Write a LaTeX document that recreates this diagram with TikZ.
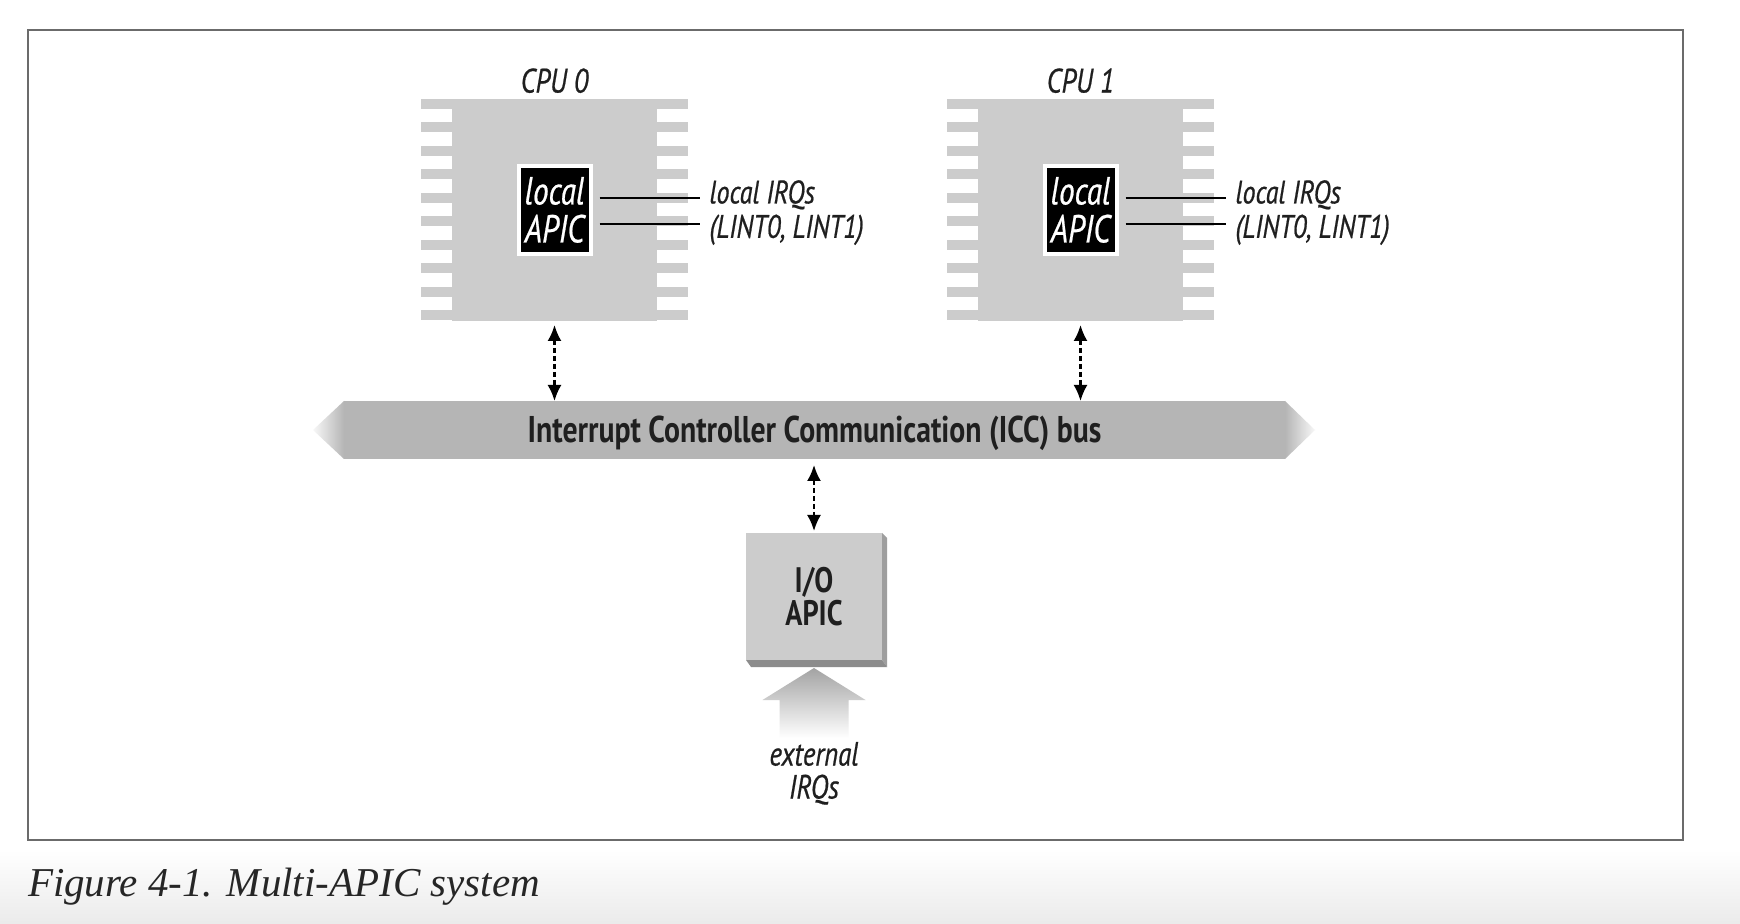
\documentclass[tikz,border=0pt]{standalone}
\usepackage{fontspec}
\setmainfont{Liberation Serif}
\newfontfamily\condfont[FakeStretch=0.8]{PT Sans}
\newfontfamily\condital[FakeStretch=0.8,FakeBold=0.6]{PT Sans}
\usetikzlibrary{arrows.meta,positioning,calc}

\definecolor{chipgray}{gray}{0.80}
\definecolor{busgray}{gray}{0.71}
\definecolor{sidegray}{gray}{0.62}
\definecolor{lowgray}{gray}{0.55}
\definecolor{inkgray}{gray}{0.12}

\begin{document}
\begin{tikzpicture}[
  x=0.5pt,
  y=-0.5pt,
  every node/.style={text=inkgray, inner sep=0pt, outer sep=0pt},
  chip/.style={
    fill=chipgray,
    minimum width=102.5pt,
    minimum height=111pt
  },
  apic/.style={
    fill=black,
    draw=white,
    line width=2pt,
    minimum width=36pt,
    minimum height=44pt,
    align=center,
    text=white,
    font=\condital\itshape\fontsize{19.5}{19}\selectfont
  },
  cpu label/.style={font=\condital\itshape\fontsize{17}{18}\selectfont},
  irq label/.style={
    align=left,
    font=\condital\itshape\fontsize{16.3}{17.2}\selectfont
  },
  busbar/.style={
    fill=busgray,
    minimum width=470.5pt,
    minimum height=29pt,
    text depth=0.6pt,
    font=\condfont\bfseries\fontsize{18.6}{20}\selectfont
  },
  iobox/.style={
    fill=chipgray,
    minimum width=68pt,
    minimum height=63.5pt,
    align=center,
    font=\condfont\bfseries\fontsize{17.7}{15}\selectfont
  },
  ext label/.style={
    align=center,
    font=\condital\itshape\fontsize{16.8}{16.5}\selectfont
  },
  caption/.style={text=black!85, font=\itshape\fontsize{20.5}{22}\selectfont},
  link/.style={{Latex[length=8pt,width=7pt]}-{Latex[length=8pt,width=7pt]}, line width=1.1pt, dash pattern=on 2.5pt off 1.5pt},
  wire/.style={line width=1pt},
  frame/.style={draw=black!58, line width=1pt}
]
\useasboundingbox (0,0) rectangle (1740,924);
\fill[white] (0,0) rectangle (1740,924);
\shade[top color=white, bottom color=black!8] (0,850) rectangle (1740,924);
\draw[frame] (28,30) rectangle (1683,840);

\node[chip] (cpu0) at (554.5,210) {};
\node[chip] (cpu1) at (1080.5,210) {};
\foreach \c in {cpu0,cpu1} {
  \foreach \k in {0,...,9}
    \fill[chipgray] ([shift={(-15.5pt,{-\k*11.75pt})}]\c.north west) rectangle ([shift={(15.5pt,{-\k*11.75pt-5pt})}]\c.north east);
}
\node[apic] (apic0) at (cpu0) {local\\APIC};
\node[apic] (apic1) at (cpu1) {local\\APIC};
\node[cpu label, above=3pt of cpu0] (cpu0name) {CPU 0};
\node[cpu label, above=3pt of cpu1] (cpu1name) {CPU 1};
\node[irq label, right=59.5pt of apic0, yshift=-1.3pt] (irq0) {local IRQs\\(LINT0, LINT1)};
\node[irq label, right=59.5pt of apic1, yshift=-1.3pt] (irq1) {local IRQs\\(LINT0, LINT1)};

\node[busbar] (bus) at (814.5,430) {Interrupt Controller Communication (ICC) bus};
\shade[left color=busgray!10, right color=busgray] (bus.north west) -- ([xshift=-15.5pt]bus.west) -- (bus.south west) -- cycle;
\shade[left color=busgray, right color=busgray!10] (bus.north east) -- ([xshift=15pt]bus.east) -- (bus.south east) -- cycle;

\node[iobox] (ioapic) at (814,596.5) {I/O\\APIC};
\fill[sidegray] (ioapic.north east) -- ([shift={(2.5pt,-2.5pt)}]ioapic.north east) -- ([shift={(2.5pt,-3.5pt)}]ioapic.south east) -- (ioapic.south east) -- cycle;
\fill[lowgray] (ioapic.south west) -- ([shift={(2.5pt,-3.5pt)}]ioapic.south west) -- ([shift={(2.5pt,-3.5pt)}]ioapic.south east) -- (ioapic.south east) -- cycle;
\node[ext label, below=41pt of ioapic] (ext) {external\\IRQs};
\shade[top color=black!36, middle color=black!22, bottom color=white] ([yshift=-4pt]ioapic.south) -- ++(51.5,32) -- ++(-17,0) -- ++(0,38) -- ++(-69,0) -- ++(0,-38) -- ++(-17,0) -- cycle;

\foreach \n in {0,1} {
  \draw[wire] ([shift={(4.5pt,6pt)}]apic\n.east) -- ([shift={(-5pt,6pt)}]apic\n.east -| irq\n.west);
  \draw[wire] ([shift={(4.5pt,-7pt)}]apic\n.east) -- ([shift={(-5pt,-7pt)}]apic\n.east -| irq\n.west);
  \draw[link] ([yshift=-2pt]cpu\n.south) -- (cpu\n.south |- bus.north);
}
\draw[link] ([yshift=-3pt]ioapic.north |- bus.south) -- ([yshift=1pt]ioapic.north);

\node[caption, anchor=base west] (caption) at (28,896) {Figure 4-1. Multi-APIC system};
\end{tikzpicture}
\end{document}
